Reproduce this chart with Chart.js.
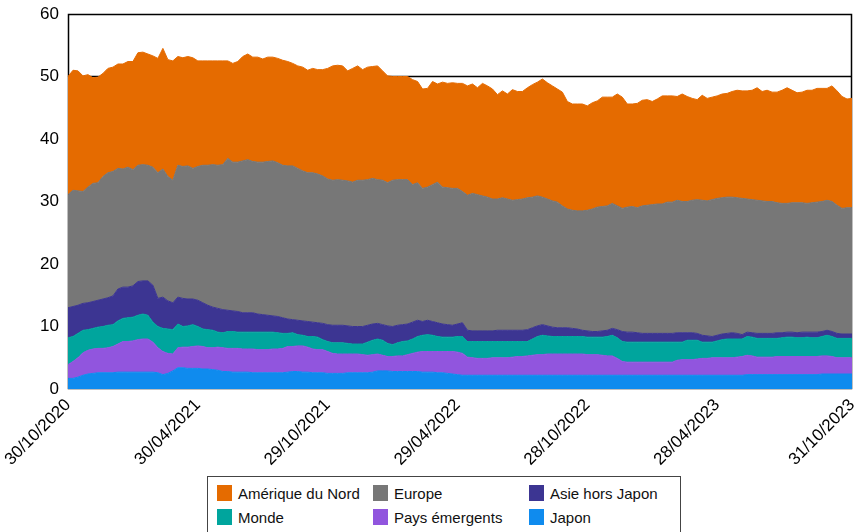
<!DOCTYPE html>
<html>
<head>
<meta charset="utf-8">
<script src="https://cdn.jsdelivr.net/npm/chart.js@4/dist/chart.umd.min.js"></script>
<style>
	body { margin: 0; background: #fff; }
	#wrap { position: relative; width: 854px; height: 532px; overflow: hidden; }
	#legend {
		position: absolute; left: 207px; top: 476px; width: 474px; height: 70px;
		border: 1px solid #444; box-sizing: border-box; background: #fff;
		font-family: "Liberation Sans", Arial, sans-serif; font-size: 15px; color: #111;
	}
	.item { position: absolute; display: flex; align-items: center; height: 16px; white-space: nowrap; }
	.swatch { width: 15px; height: 16px; margin-right: 6px; }
</style>
</head>
<body>
<div id="wrap">
	<canvas id="chart" width="854" height="532"></canvas>
	<div id="legend"></div>
</div>
<script>
// weekly points, Friday 30/10/2020 .. 27/10/2023, then 31/10/2023
const dates = [];
for (let w = 0; w < 157; w++) {
	const d = new Date(Date.UTC(2020, 9, 30 + w * 7));
	dates.push(String(d.getUTCDate()).padStart(2, "0") + "/" + String(d.getUTCMonth() + 1).padStart(2, "0") + "/" + d.getUTCFullYear());
}
dates.push("31/10/2023");

const shownTicks = ["30/10/2020", "30/04/2021", "29/10/2021", "29/04/2022", "28/10/2022", "28/04/2023", "31/10/2023"];

const japon = [
	1.7,1.7,1.9,2.2,2.4,2.5,2.6,2.6,2.6,2.6,
	2.7,2.7,2.7,2.7,2.7,2.7,2.7,2.7,2.6,2.3,
	2.5,2.9,3.4,3.4,3.3,3.3,3.3,3.2,3.2,3.1,
	3.0,2.8,2.8,2.7,2.7,2.7,2.7,2.6,2.6,2.6,
	2.6,2.6,2.6,2.6,2.7,2.8,2.8,2.7,2.7,2.6,
	2.6,2.6,2.5,2.5,2.5,2.5,2.6,2.6,2.6,2.6,
	2.6,2.7,2.9,2.9,2.9,2.8,2.8,2.8,2.8,2.8,
	2.8,2.7,2.7,2.7,2.6,2.6,2.5,2.4,2.3,2.2,
	2.2,2.2,2.2,2.2,2.2,2.2,2.2,2.2,2.2,2.2,
	2.2,2.2,2.2,2.2,2.2,2.2,2.2,2.2,2.2,2.2,
	2.2,2.2,2.2,2.2,2.2,2.2,2.2,2.2,2.2,2.2,
	2.2,2.2,2.2,2.2,2.2,2.2,2.2,2.2,2.2,2.2,
	2.2,2.2,2.2,2.2,2.2,2.2,2.2,2.2,2.2,2.2,
	2.2,2.2,2.2,2.2,2.2,2.2,2.3,2.3,2.3,2.3,
	2.3,2.3,2.3,2.3,2.3,2.3,2.3,2.3,2.3,2.3,
	2.3,2.4,2.4,2.4,2.4,2.4,2.4,2.4
];
const paysEmergents = [
	2.2,2.7,3.1,3.6,3.8,3.9,3.9,3.9,4.0,4.2,
	4.5,4.9,4.9,5.0,5.2,5.3,5.3,4.8,4.0,3.7,
	3.2,2.7,3.2,3.3,3.4,3.5,3.6,3.6,3.4,3.5,
	3.7,3.8,3.7,3.8,3.8,3.7,3.7,3.8,3.7,3.7,
	3.7,3.8,3.8,3.9,4.1,4.0,4.1,4.2,4.0,3.8,
	3.7,3.7,3.5,3.2,3.1,3.1,3.0,3.0,3.0,2.9,
	2.8,2.8,2.7,2.5,2.3,2.4,2.5,2.5,2.7,2.9,
	3.1,3.3,3.3,3.3,3.4,3.4,3.5,3.6,3.6,3.5,
	2.9,2.8,2.7,2.7,2.7,2.8,2.8,2.8,2.8,2.9,
	3.0,3.0,3.1,3.2,3.3,3.3,3.4,3.4,3.4,3.4,
	3.4,3.4,3.4,3.4,3.3,3.3,3.3,3.2,3.1,3.1,
	2.7,2.2,2.1,2.1,2.1,2.1,2.1,2.1,2.1,2.1,
	2.1,2.1,2.4,2.5,2.5,2.5,2.6,2.7,2.7,2.8,
	2.8,2.8,2.8,2.8,2.9,3.0,3.1,3.0,2.8,2.8,
	2.8,2.8,2.9,2.9,2.9,2.9,2.9,2.9,2.9,2.9,
	2.9,2.9,2.9,2.8,2.6,2.6,2.6,2.6
];
const monde = [
	4.3,4.0,3.9,3.6,3.3,3.3,3.4,3.5,3.6,3.5,
	3.7,3.7,3.8,3.8,3.9,4.0,3.8,3.2,3.4,3.7,
	3.9,3.9,3.8,3.3,3.4,3.5,3.1,2.8,2.9,2.8,
	2.4,2.4,2.7,2.7,2.6,2.7,2.7,2.7,2.8,2.8,
	2.8,2.7,2.6,2.4,2.1,2.2,1.8,1.7,1.7,2.0,
	2.0,1.6,1.6,1.7,1.8,1.8,1.7,1.6,1.6,1.7,
	2.1,2.3,2.4,2.4,2.1,1.9,2.1,2.3,2.2,2.3,
	2.5,2.6,2.7,2.6,2.4,2.3,2.3,2.3,2.5,2.7,
	2.5,2.6,2.7,2.7,2.7,2.6,2.6,2.6,2.6,2.5,
	2.4,2.4,2.3,2.6,2.9,3.1,2.9,2.8,2.8,2.8,
	2.8,2.8,2.8,2.8,2.8,2.8,2.8,2.9,3.1,3.3,
	3.3,3.2,3.2,3.2,3.2,3.2,3.2,3.2,3.2,3.2,
	3.2,3.2,2.9,2.8,3.1,3.1,3.0,2.6,2.6,2.5,
	2.7,2.9,3.0,3.0,2.9,2.8,3.0,3.0,3.0,3.0,
	3.0,3.0,2.9,3.0,3.1,3.1,3.0,3.0,3.1,3.0,
	3.0,3.1,3.3,3.2,3.1,3.1,3.1,3.1
];
const asieHorsJapon = [
	4.8,4.8,4.5,4.3,4.3,4.3,4.3,4.4,4.4,4.6,
	5.1,5.0,4.9,5.0,5.4,5.3,5.5,5.9,4.5,5.0,
	4.5,4.3,4.3,4.5,4.3,4.1,4.2,4.2,3.9,3.7,
	3.8,3.7,3.4,3.3,3.3,3.1,3.1,3.1,2.9,2.8,
	2.7,2.6,2.6,2.5,2.3,2.1,2.3,2.3,2.4,2.3,
	2.3,2.6,2.7,2.8,2.8,2.8,2.8,2.8,2.8,2.8,
	2.7,2.6,2.5,2.5,2.8,2.9,2.8,2.7,2.7,2.7,
	2.6,2.2,2.3,2.2,2.2,2.1,2.0,1.9,2.0,2.2,
	1.8,1.7,1.7,1.7,1.7,1.7,1.8,1.8,1.8,1.8,
	1.8,1.8,1.9,1.8,1.7,1.7,1.6,1.5,1.4,1.4,
	1.4,1.3,1.2,1.0,1.0,0.9,0.9,1.0,1.0,1.1,
	1.3,1.6,1.6,1.6,1.5,1.4,1.4,1.4,1.4,1.4,
	1.4,1.4,1.5,1.5,1.2,1.2,1.1,1.1,1.0,0.9,
	0.9,0.9,0.9,1.0,0.9,0.7,0.7,0.7,0.8,0.8,
	0.8,0.8,0.9,0.8,0.8,0.8,0.8,0.9,0.8,0.9,
	0.9,0.8,0.8,0.8,0.8,0.7,0.7,0.7
];
const europe = [
	18.1,18.6,18.3,17.9,18.5,18.9,18.8,19.6,20.0,19.9,
	19.3,18.9,19.2,18.6,18.6,18.6,18.5,18.9,20.1,20.5,
	19.9,19.6,21.1,21.1,21.3,20.9,21.4,22.0,22.4,22.8,
	22.9,23.2,24.3,23.8,23.9,24.3,24.5,24.2,24.3,24.4,
	24.6,24.8,24.6,24.4,24.5,24.6,24.3,24.0,23.8,23.9,
	23.8,23.6,23.3,23.2,23.3,23.2,23.2,23.1,23.4,23.4,
	23.3,23.3,23.0,23.1,22.9,23.4,23.3,23.2,23.1,22.0,
	22.0,21.3,21.3,21.9,22.5,21.9,21.9,21.9,21.7,21.0,
	21.6,22.0,21.8,21.6,21.4,21.1,21.0,21.2,21.0,20.8,
	20.9,21.0,21.1,20.9,20.8,20.4,20.3,20.2,20.1,19.5,
	19.0,18.9,18.9,19.1,19.3,19.6,19.9,19.9,19.9,20.0,
	19.8,19.7,20.0,20.1,20.0,20.4,20.5,20.6,20.7,20.7,
	21.0,21.0,21.2,21.0,21.0,21.2,21.4,21.6,21.6,21.9,
	21.9,21.8,21.8,21.7,21.7,21.8,21.3,21.3,21.3,21.2,
	21.1,21.1,20.8,20.7,20.6,20.7,20.8,20.7,20.6,20.7,
	20.8,20.8,20.8,20.8,20.5,20.1,20.2,20.2
];
const ameriqueNord = [
	18.9,19.2,19.2,18.5,18.0,16.9,16.9,16.5,16.7,16.7,
	16.7,16.8,16.9,17.3,18.0,18.0,17.8,17.8,18.3,19.3,
	18.7,19.1,17.4,17.4,17.5,17.7,16.9,16.7,16.7,16.6,
	16.7,16.6,15.6,15.8,16.1,16.7,16.9,16.7,16.8,16.5,
	16.7,16.6,16.7,16.8,16.7,16.4,16.4,16.6,16.4,16.7,
	16.7,17.0,17.7,18.3,18.3,18.3,17.6,18.2,18.3,17.7,
	18.0,17.9,18.2,17.5,17.1,16.6,16.5,16.5,16.5,16.8,
	16.2,15.9,15.8,16.5,15.7,16.8,16.7,16.9,16.8,17.3,
	17.5,17.5,17.1,18.0,17.8,17.6,16.7,17.1,16.8,17.7,
	17.3,17.2,17.6,18.0,18.2,18.9,18.6,18.4,18.1,18.2,
	17.2,17.0,17.1,17.1,16.7,17.0,17.0,17.5,17.4,17.0,
	17.9,17.8,16.5,16.4,16.7,16.9,16.9,16.5,16.8,17.3,
	17.0,17.0,16.6,17.2,16.8,16.3,16.0,16.8,16.4,16.4,
	16.4,16.6,16.6,16.9,17.2,17.2,17.3,17.5,18.0,17.5,
	17.8,17.5,17.7,18.1,18.5,18.0,17.6,17.7,18.1,18.0,
	18.2,18.1,17.9,18.5,18.3,17.9,17.4,17.5
];

const colors = {
	"Japon": "#0f8bee",
	"Pays émergents": "#9155de",
	"Monde": "#00a59d",
	"Asie hors Japon": "#3c3592",
	"Europe": "#777777",
	"Amérique du Nord": "#e56b00",
};

// bottom of the stack first
const series = [
	["Japon", japon],
	["Pays émergents", paysEmergents],
	["Monde", monde],
	["Asie hors Japon", asieHorsJapon],
	["Europe", europe],
	["Amérique du Nord", ameriqueNord],
];

const datasets = series.map(function (s, i) {
	return {
		label: s[0],
		data: s[1],
		backgroundColor: colors[s[0]],
		borderColor: colors[s[0]],
		borderWidth: 1,
		pointRadius: 0,
		tension: 0,
		fill: i === 0 ? "origin" : "-1",
	};
});

// frame and the 50 line, drawn under the areas
const frameLines = {
	id: "frameLines",
	beforeDatasetsDraw(chart) {
		const { ctx, chartArea: a, scales } = chart;
		const y50 = Math.round(scales.y.getPixelForValue(50)) + 0.5;
		ctx.save();
		ctx.strokeStyle = "#000";
		ctx.lineWidth = 1.5;
		ctx.strokeRect(a.left + 0.5, a.top + 0.5, a.right - a.left - 1, a.bottom - a.top - 1);
		ctx.beginPath();
		ctx.moveTo(a.left, y50);
		ctx.lineTo(a.right, y50);
		ctx.stroke();
		ctx.restore();
	},
};

const tickFont = { family: "'Liberation Sans', Arial, sans-serif", size: 17 };

new Chart(document.getElementById("chart").getContext("2d"), {
	type: "line",
	data: { labels: dates, datasets: datasets },
	options: {
		responsive: false,
		animation: false,
		layout: { padding: { top: 14, right: 2, left: 0, bottom: 0 } },
		plugins: { legend: { display: false }, tooltip: { enabled: false } },
		scales: {
			x: {
				grid: { display: false, drawTicks: false },
				border: { display: false },
				ticks: {
					autoSkip: false,
					minRotation: 45,
					maxRotation: 45,
					padding: 6,
					color: "#000",
					font: tickFont,
					callback: function (v, idx) {
						return shownTicks.includes(dates[idx]) ? dates[idx] : null;
					},
				},
				afterFit: function (s) {
					s.height = 143;
					s.paddingLeft = 0;
					s.paddingRight = 0;
				},
			},
			y: {
				stacked: true,
				min: 0,
				max: 60,
				grid: { display: false, drawTicks: false },
				border: { display: false },
				ticks: { stepSize: 10, padding: 9, color: "#000", font: tickFont },
				afterFit: function (s) {
					s.width = 68;
					s.paddingTop = 0;
					s.paddingBottom = 0;
				},
			},
		},
	},
	plugins: [frameLines],
});

// legend laid out in 3 columns, top of stack first
const legend = document.getElementById("legend");
series.slice().reverse().forEach(function (s, i) {
	const item = document.createElement("div");
	item.className = "item";
	item.style.left = (9 + (i % 3) * 156) + "px";
	item.style.top = (8 + Math.floor(i / 3) * 24) + "px";
	const sw = document.createElement("span");
	sw.className = "swatch";
	sw.style.background = colors[s[0]];
	const tx = document.createElement("span");
	tx.textContent = s[0];
	item.appendChild(sw);
	item.appendChild(tx);
	legend.appendChild(item);
});
</script>
</body>
</html>
